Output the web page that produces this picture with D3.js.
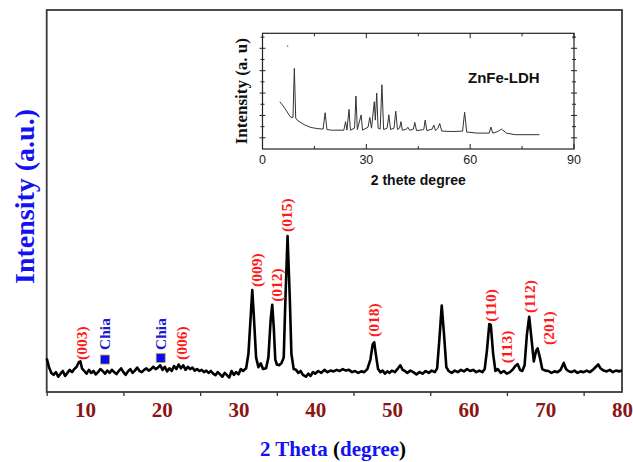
<!DOCTYPE html>
<html>

<head>
  <title>XRD pattern</title>
</head>

<body>

  <svg id="svg" width="633" height="462"></svg>

  <script src="https://d3js.org/d3.v7.min.js"></script>
  <script>
    // main pattern: [2 theta, intensity]
    const mainPattern = [
      [5.0, 88], [5.3, 65], [5.6, 50], [5.9, 45], [6.2, 52], [6.5, 40], [6.8, 48], [7.1, 55], [7.4, 42], [7.7, 50],
      [8.0, 58], [8.3, 52], [8.6, 60], [8.9, 66], [9.2, 78], [9.4, 80], [9.6, 62], [9.9, 55], [10.2, 48], [10.5, 58],
      [10.8, 50], [11.1, 55], [11.4, 46], [11.7, 52], [12.0, 60], [12.3, 55], [12.6, 48], [12.9, 56], [13.2, 50], [13.5, 58],
      [13.8, 52], [14.1, 47], [14.4, 55], [14.7, 62], [15.0, 52], [15.3, 45], [15.6, 54], [15.9, 60], [16.2, 50], [16.5, 56],
      [16.8, 64], [17.1, 55], [17.4, 52], [17.7, 58], [18.0, 62], [18.3, 56], [18.6, 60], [18.9, 66], [19.2, 60], [19.5, 64],
      [19.8, 70], [20.1, 58], [20.4, 66], [20.7, 54], [21.0, 62], [21.3, 55], [21.6, 68], [21.9, 60], [22.2, 72], [22.5, 62],
      [22.8, 70], [23.1, 58], [23.4, 66], [23.7, 60], [24.0, 64], [24.3, 56], [24.6, 60], [24.9, 55], [25.2, 58], [25.5, 52],
      [25.8, 56], [26.1, 50], [26.4, 55], [26.7, 48], [27.0, 44], [27.3, 52], [27.6, 46], [27.9, 40], [28.2, 50], [28.5, 44],
      [28.8, 38], [29.1, 55], [29.4, 45], [29.7, 52], [30.0, 46], [30.3, 60], [30.6, 55], [31.0, 62], [31.3, 100], [31.6, 200],
      [31.8, 267], [32.0, 200], [32.3, 90], [32.6, 65], [32.9, 75], [33.2, 60], [33.6, 62], [33.9, 90], [34.2, 190], [34.4, 228],
      [34.6, 170], [34.8, 85], [35.0, 72], [35.3, 70], [35.6, 75], [35.9, 90], [36.1, 230], [36.4, 408], [36.7, 240], [36.9, 100],
      [37.2, 60], [37.5, 58], [37.8, 50], [38.1, 55], [38.4, 45], [38.8, 40], [39.1, 48], [39.4, 42], [39.7, 52], [40.0, 48],
      [40.4, 55], [40.8, 50], [41.2, 58], [41.6, 52], [42.0, 56], [42.4, 54], [42.8, 58], [43.2, 55], [43.6, 60], [44.0, 56],
      [44.4, 58], [44.8, 52], [45.2, 55], [45.6, 50], [46.0, 54], [46.4, 52], [46.8, 60], [47.2, 85], [47.5, 125], [47.7, 130],
      [47.9, 100], [48.2, 60], [48.5, 52], [48.8, 56], [49.1, 48], [49.4, 54], [49.7, 50], [50.0, 56], [50.4, 52], [50.8, 62],
      [51.1, 70], [51.4, 58], [51.7, 55], [52.0, 50], [52.4, 56], [52.8, 52], [53.2, 46], [53.6, 52], [54.0, 48], [54.4, 55],
      [54.8, 50], [55.2, 56], [55.6, 52], [55.9, 62], [56.2, 140], [56.5, 226], [56.8, 150], [57.1, 65], [57.4, 55], [57.8, 50],
      [58.2, 56], [58.6, 52], [59.0, 58], [59.4, 54], [59.8, 60], [60.2, 55], [60.6, 58], [61.0, 52], [61.4, 56], [61.8, 52],
      [62.1, 60], [62.4, 110], [62.7, 178], [62.9, 175], [63.2, 100], [63.5, 55], [63.8, 60], [64.2, 50], [64.6, 55], [65.0, 48],
      [65.4, 52], [65.8, 60], [66.1, 68], [66.4, 73], [66.7, 58], [67.0, 55], [67.3, 70], [67.6, 150], [67.9, 197], [68.2, 140],
      [68.5, 80], [68.8, 108], [69.0, 114], [69.3, 90], [69.6, 60], [70.0, 56], [70.4, 55], [70.8, 50], [71.2, 54], [71.6, 52],
      [72.0, 58], [72.4, 76], [72.7, 60], [73.0, 55], [73.4, 52], [73.8, 56], [74.2, 50], [74.6, 54], [75.0, 52], [75.4, 56],
      [75.8, 52], [76.2, 58], [76.6, 66], [76.9, 72], [77.2, 62], [77.6, 56], [78.0, 54], [78.4, 58], [78.8, 52], [79.2, 56],
      [79.6, 54], [80.0, 56]
    ]

    // peak labels: text, 2 theta, intensity where the label starts
    const peakNames = ['(003)', '(006)', '(009)', '(012)', '(015)', '(018)', '(110)', '(113)', '(112)', '(201)']
    const peakTheta = [9.56, 22.6, 32.3, 35.0, 36.2, 47.6, 62.9, 65.0, 68.0, 70.4]
    const peakLevel = [84, 84, 275, 236, 419, 144, 184, 75, 207, 123]

    // chia markers
    const chiaTheta = [12.6, 19.86]
    const chiaLevel = [110, 110]
    const chiaBoxLevel = [85, 89]

    const mainTickValues = [5, 15, 25, 35, 45, 55, 65, 75]
    const mainLabelValues = [10, 20, 30, 40, 50, 60, 70, 80]

    // inset pattern (ZnFe-LDH): [2 theta, intensity]
    const insetPattern = [
      [5, 2.61], [6, 2.42], [7, 2.19], [8, 1.94], [8.8, 1.90], [9.2, 4.1], [9.6, 1.88], [10, 1.79], [12, 1.59], [14, 1.46],
      [16, 1.41], [17.5, 1.39], [18.1, 2.12], [18.6, 1.37], [20, 1.34], [23.5, 1.34], [24, 1.72], [24.4, 1.34], [25, 2.27], [25.4, 1.34],
      [26.6, 1.43], [27, 2.87], [27.4, 1.37], [28.5, 2.02], [28.9, 1.34], [30.5, 1.48], [31, 1.91], [31.5, 1.43], [32.3, 2.61], [32.6, 1.79],
      [33, 3.0], [33.4, 1.43], [34, 1.39], [34.5, 3.37], [35, 1.37], [36, 1.43], [36.5, 2.03], [37, 1.37], [38, 1.43], [38.5, 2.19],
      [39, 1.37], [39.6, 1.43], [40, 1.72], [40.4, 1.34], [41.6, 1.39], [42, 1.47], [42.5, 1.34], [43.6, 1.39], [44, 1.69], [44.5, 1.32],
      [46.6, 1.37], [47, 1.79], [47.5, 1.32], [49, 1.39], [49.5, 1.57], [50, 1.32], [50.7, 1.43], [51.2, 1.64], [51.8, 1.30], [55, 1.28],
      [57.8, 1.30], [58.4, 2.14], [59, 1.26], [62, 1.21], [65.5, 1.21], [66, 1.48], [66.5, 1.21], [68, 1.28], [69, 1.39], [70.5, 1.21],
      [73, 1.14], [80, 1.14]
    ]
    const insetMajorX = [0, 30, 60, 90]
    const insetMinorX = [15, 45, 75]
    const insetMajorY = [1, 2, 3, 4, 5]
    const insetMinorY = [1.5, 2.5, 3.5, 4.5, 5.5]

    const svg = d3.select('#svg')
    const blue = '#1212f2'
    const maroon = '#8b1414'
    const serif = '"Liberation Serif", "Times New Roman", serif'
    const sans = '"Liberation Sans", Arial, sans-serif'

    // main scales
    const xscale = d3.scaleLinear().domain([5, 80]).range([46.7, 622])
    const yscale = d3.scaleLinear().domain([0, 1000]).range([392, 10])

    // ticks below axis (no labels)
    svg.append('g')
      .attr('transform', 'translate(0,392)')
      .call(d3.axisBottom(xscale).tickValues(mainTickValues).tickFormat('').tickSize(4).tickSizeOuter(0))
      .call(g => g.select('.domain').remove())
      .selectAll('line').attr('stroke', '#333').attr('stroke-width', 1.3)

    // tick labels at 10s
    svg.append('g')
      .attr('transform', 'translate(0,399)')
      .call(d3.axisBottom(xscale).tickValues(mainLabelValues).tickSize(0).tickPadding(0))
      .call(g => g.select('.domain').remove())
      .selectAll('text')
      .attr('dy', '0')
      .attr('y', 18)
      .attr('fill', maroon)
      .style('font', 'bold 21px ' + serif)

    // frame
    svg.append('rect')
      .attr('x', xscale(5)).attr('y', yscale(1000))
      .attr('width', xscale(80) - xscale(5)).attr('height', yscale(0) - yscale(1000))
      .attr('fill', 'none').attr('stroke', '#3a3a3a').attr('stroke-width', 1.8)

    // pattern line
    const linegen = d3.line()
      .x(d => xscale(d[0]))
      .y(d => yscale(d[1]))
    svg.append('path')
      .attr('d', linegen(mainPattern))
      .attr('stroke', 'black')
      .attr('stroke-width', 2.6)
      .attr('stroke-linejoin', 'round')
      .attr('fill', 'none')

    // peak labels
    peakNames.forEach((name, i) => {
      const x = xscale(peakTheta[i])
      const y = yscale(peakLevel[i])
      svg.append('text')
        .attr('transform', `translate(${x},${y}) rotate(-90)`)
        .attr('dominant-baseline', 'central')
        .attr('fill', '#ff1a1a')
        .style('font', 'bold 15.5px ' + serif)
        .text(name)
    })

    // chia markers
    chiaTheta.forEach((t, i) => {
      const x = xscale(t)
      svg.append('text')
        .attr('transform', `translate(${x},${yscale(chiaLevel[i])}) rotate(-90)`)
        .attr('dominant-baseline', 'central')
        .attr('fill', '#1a1ad0')
        .style('font', 'bold 15.5px ' + serif)
        .text('Chia')
      svg.append('rect')
        .attr('x', x - 4.5).attr('y', yscale(chiaBoxLevel[i]) - 4.5)
        .attr('width', 9).attr('height', 9)
        .attr('fill', '#0a0af5').attr('stroke', '#b5a84a').attr('stroke-width', 0.8)
    })

    // axis titles
    svg.append('text')
      .attr('transform', 'translate(24,196.5) rotate(-90)')
      .attr('text-anchor', 'middle')
      .attr('dominant-baseline', 'central')
      .attr('fill', blue)
      .style('font', 'bold 28px ' + serif)
      .text('Intensity (a.u.)')

    const xt = svg.append('text')
      .attr('x', 333).attr('y', 456)
      .attr('text-anchor', 'middle')
      .style('font', 'bold 21px ' + serif)
    xt.append('tspan').attr('fill', blue).text('2 Theta ')
    xt.append('tspan').attr('fill', 'black').text('(')
    xt.append('tspan').attr('fill', blue).text('degree')
    xt.append('tspan').attr('fill', 'black').text(')')

    // ---- inset ----
    const ix = d3.scaleLinear().domain([0, 90]).range([262.5, 574])
    const iy = d3.scaleLinear().domain([0.5, 5.67]).range([149, 33.3])

    const inset = svg.append('g')

    inset.append('rect')
      .attr('x', ix(0)).attr('y', iy(5.67))
      .attr('width', ix(90) - ix(0)).attr('height', iy(0.5) - iy(5.67))
      .attr('fill', 'white').attr('stroke', '#222').attr('stroke-width', 1.2)

    // x ticks top and bottom, pointing in
    function xTicks(values, len) {
      values.forEach(v => {
        inset.append('line')
          .attr('x1', ix(v)).attr('x2', ix(v))
          .attr('y1', iy(0.5)).attr('y2', iy(0.5) - len)
          .attr('stroke', '#222')
        inset.append('line')
          .attr('x1', ix(v)).attr('x2', ix(v))
          .attr('y1', iy(5.67)).attr('y2', iy(5.67) + len)
          .attr('stroke', '#222')
      })
    }
    xTicks(insetMajorX, 5)
    xTicks(insetMinorX, 3)

    // y ticks left and right, crossing frame
    function yTicks(values, len) {
      values.forEach(v => {
        inset.append('line')
          .attr('x1', ix(0) - len).attr('x2', ix(0) + len)
          .attr('y1', iy(v)).attr('y2', iy(v))
          .attr('stroke', '#222')
        inset.append('line')
          .attr('x1', ix(90) - len).attr('x2', ix(90) + len)
          .attr('y1', iy(v)).attr('y2', iy(v))
          .attr('stroke', '#222')
      })
    }
    yTicks(insetMajorY, 3)
    yTicks(insetMinorY, 2)

    inset.selectAll('.ilabel')
      .data(insetMajorX)
      .enter()
      .append('text')
      .attr('x', d => ix(d))
      .attr('y', 164)
      .attr('text-anchor', 'middle')
      .attr('fill', '#222')
      .style('font', '12.5px ' + sans)
      .text(d => d)

    const insetLine = d3.line()
      .x(d => ix(d[0]))
      .y(d => iy(d[1]))
    inset.append('path')
      .attr('d', insetLine(insetPattern))
      .attr('stroke', '#333')
      .attr('stroke-width', 1)
      .attr('fill', 'none')

    // tiny pink speck
    inset.append('rect')
      .attr('x', ix(7.28) - 0.5).attr('y', iy(5.1) - 1)
      .attr('width', 1).attr('height', 2)
      .attr('fill', '#ff33cc')

    inset.append('text')
      .attr('x', 468).attr('y', 83)
      .attr('fill', '#111')
      .style('font', 'bold 15px ' + sans)
      .text('ZnFe-LDH')

    inset.append('text')
      .attr('x', (ix(0) + ix(90)) / 2).attr('y', 185)
      .attr('text-anchor', 'middle')
      .attr('fill', '#111')
      .style('font', 'bold 14px ' + sans)
      .text('2 thete degree')

    inset.append('text')
      .attr('transform', `translate(241,${(iy(0.5) + iy(5.67)) / 2}) rotate(-90)`)
      .attr('text-anchor', 'middle')
      .attr('dominant-baseline', 'central')
      .attr('fill', '#111')
      .style('font', 'bold 17px ' + serif)
      .text('Intensity (a. u)')
  </script>
</body>

<style>
  body,
  html {
    margin: 0;
    padding: 0;
    background: white;
  }

  #svg {
    display: block;
  }
</style>

</html>
